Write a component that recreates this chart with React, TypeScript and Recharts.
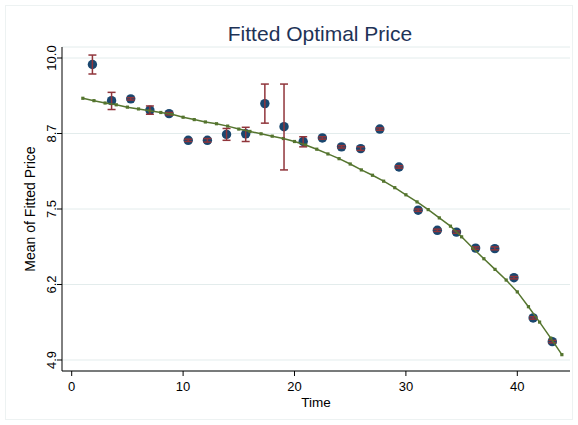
import {
  ComposedChart,
  XAxis,
  YAxis,
  CartesianGrid,
  Scatter,
  ErrorBar,
  Line,
} from "recharts";

// binned means of fitted price, with their intervals
const binTime = [
  1.86, 3.58, 5.3, 7.02, 8.74, 10.46, 12.18, 13.9, 15.62, 17.34, 19.06, 20.78,
  22.5, 24.22, 25.94, 27.66, 29.38, 31.1, 32.82, 34.54, 36.26, 37.98, 39.7,
  41.42, 43.14,
];
const meanPrice = [
  9.89, 9.28, 9.31, 9.12, 9.06, 8.61, 8.61, 8.71, 8.72, 9.23, 8.84, 8.59, 8.65,
  8.5, 8.47, 8.8, 8.16, 7.43, 7.09, 7.06, 6.79, 6.78, 6.29, 5.61, 5.21,
];
const ciLow = [
  9.73, 9.13, 9.29, 9.05, 9.04, 8.59, 8.58, 8.61, 8.59, 8.9, 8.11, 8.5, 8.63,
  8.48, 8.44, 8.78, 8.14, 7.41, 7.07, 7.04, 6.77, 6.76, 6.27, 5.59, 5.19,
];
const ciHigh = [
  10.05, 9.42, 9.33, 9.19, 9.08, 8.63, 8.64, 8.81, 8.83, 9.56, 9.56, 8.67, 8.67,
  8.52, 8.5, 8.82, 8.18, 7.45, 7.11, 7.08, 6.81, 6.81, 6.31, 5.63, 5.23,
];

// fitted curve
const fitTime = [
  1, 2, 3, 4, 5, 6, 7, 8, 9, 10, 11, 12, 13, 14, 15, 16, 17, 18, 19, 20, 21, 22,
  23, 24, 25, 26, 27, 28, 29, 30, 31, 32, 33, 34, 35, 36, 37, 38, 39, 40, 41, 42,
  43, 44,
];
const fitPrice = [
  9.32, 9.28, 9.24, 9.21, 9.17, 9.14, 9.11, 9.08, 9.05, 9.0, 8.96, 8.92, 8.89,
  8.85, 8.8, 8.76, 8.72, 8.68, 8.64, 8.59, 8.53, 8.46, 8.38, 8.3, 8.21, 8.11,
  8.02, 7.92, 7.81, 7.69, 7.57, 7.44, 7.3, 7.16, 6.98, 6.79, 6.61, 6.43, 6.25,
  6.05, 5.8, 5.54, 5.27, 4.99,
];

const xTicks = [0, 10, 20, 30, 40];
const yTicks = [4.9, 6.175, 7.45, 8.725, 10.0];
const yTickLabels = ["4.9", "6.2", "7.5", "8.7", "10.0"];

const binned = binTime.map((t, i) => ({
  t,
  price: meanPrice[i],
  ci: [meanPrice[i] - ciLow[i], ciHigh[i] - meanPrice[i]],
}));

const fitted = fitTime.map((t, i) => ({
  t,
  price: fitPrice[i],
}));

const FONT = '"Liberation Sans", Arial, Helvetica, sans-serif';

const YTick = (props: any) => {
  const { x, y, payload } = props;
  const idx = yTicks.indexOf(payload.value);
  return (
    <text
      x={x}
      y={y}
      transform={`rotate(-90, ${x}, ${y})`}
      textAnchor="middle"
      fontSize={13}
      fill="#000"
    >
      {idx >= 0 ? yTickLabels[idx] : payload.value}
    </text>
  );
};

export default function App() {
  return (
    <div
      style={{
        position: "absolute",
        left: 0,
        top: 0,
        width: 578,
        height: 425,
        background: "#fff",
        fontFamily: FONT,
      }}
    >
      <ComposedChart
        width={578}
        height={425}
        margin={{ top: 47, right: 8, bottom: 24, left: 0 }}
      >
        <CartesianGrid vertical={false} stroke="#e3ecec" strokeWidth={1} />
        <XAxis
          type="number"
          dataKey="t"
          domain={[-0.87, 44.73]}
          ticks={xTicks}
          allowDataOverflow
          height={30}
          tickSize={5}
          tickMargin={6}
          stroke="#000"
          tick={{ fill: "#000", fontSize: 13 }}
        />
        <YAxis
          type="number"
          dataKey="price"
          domain={[4.714, 10.186]}
          ticks={yTicks}
          allowDataOverflow
          width={62}
          tickSize={5}
          tickMargin={1}
          stroke="#000"
          tick={<YTick />}
        />
        <Scatter
          data={binned}
          dataKey="price"
          isAnimationActive={false}
          zIndex={350}
          shape={(p: any) => (
            <circle cx={p.cx} cy={p.cy} r={4.7} fill="#1a476f" />
          )}
        />
        <Scatter
          data={binned}
          dataKey="price"
          isAnimationActive={false}
          zIndex={700}
          shape={() => <g />}
        >
          <ErrorBar
            dataKey="ci"
            direction="y"
            width={4}
            stroke="#90353b"
            strokeWidth={1.5}
            zIndex={700}
          />
        </Scatter>
        <Line
          data={fitted}
          dataKey="price"
          type="linear"
          stroke="#55752f"
          strokeWidth={1.5}
          isAnimationActive={false}
          zIndex={800}
          dot={(p: any) => (
            <rect
              key={p.index}
              x={p.cx - 1.6}
              y={p.cy - 1.6}
              width={3.2}
              height={3.2}
              fill="#55752f"
            />
          )}
        />
      </ComposedChart>
      <svg
        width={578}
        height={425}
        style={{ position: "absolute", left: 0, top: 0, pointerEvents: "none" }}
      >
        <rect
          x={5.5}
          y={5.5}
          width={567}
          height={414}
          fill="none"
          stroke="#edf2f2"
        />
        <text x={320} y={41} textAnchor="middle" fontSize={21} fill="#1e3357">
          Fitted Optimal Price
        </text>
        <text x={316} y={406.5} textAnchor="middle" fontSize={13.5} fill="#000">
          Time
        </text>
        <text
          x={35}
          y={209}
          transform="rotate(-90, 35, 209)"
          textAnchor="middle"
          fontSize={14}
          fill="#000"
        >
          Mean of Fitted Price
        </text>
      </svg>
    </div>
  );
}
